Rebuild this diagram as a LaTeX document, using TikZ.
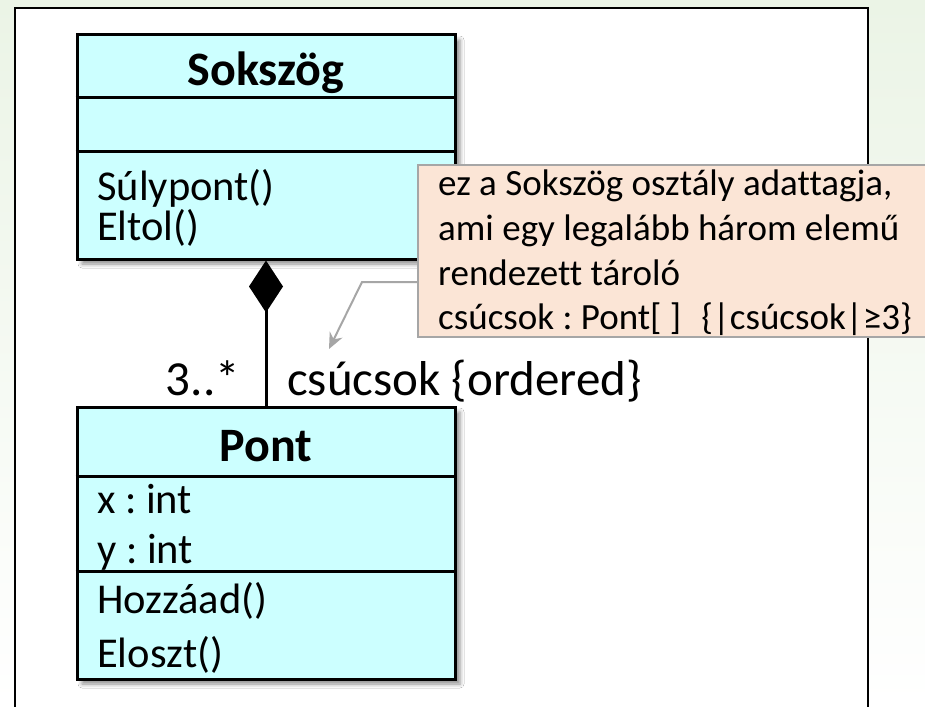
\documentclass[tikz,border=0pt]{standalone}
\usepackage{fontspec}
\setmainfont{Carlito}[Ligatures=NoCommon]
\usetikzlibrary{arrows.meta,shadows.blur}
\definecolor{clsfill}{RGB}{204,255,255}
\definecolor{notefill}{RGB}{251,229,214}
\definecolor{notedraw}{RGB}{166,166,166}
\definecolor{bggreen}{RGB}{235,244,230}
\frenchspacing
\tikzset{
  classbox/.style={draw=black, line width=3pt, fill=clsfill, rectangle, inner sep=0pt,
    blur shadow={shadow xshift=5pt, shadow yshift=-5pt, shadow blur radius=4pt, shadow opacity=45}},
  sepline/.style={draw=black, line width=3pt},
  ctext/.style={anchor=base west, inner sep=0pt, font=\fontsize{42.5}{46}\selectfont},
  ctitle/.style={anchor=base, inner sep=0pt, font=\fontsize{48}{52}\selectfont\bfseries},
  notebox/.style={draw=notedraw, line width=2pt, fill=notefill, rectangle, inner sep=0pt},
  notetext/.style={anchor=base west, inner sep=0pt, font=\fontsize{37}{41}\selectfont},
  assoc/.style={draw=black, line width=3pt},
  pointer/.style={draw=notedraw, line width=2pt, -{Stealth[length=16pt,width=14pt]}},
  lbl/.style={inner sep=0pt, font=\fontsize{49}{53}\selectfont}
}
\begin{document}
\begin{tikzpicture}[x=1pt,y=-1pt]
\useasboundingbox (0,0) rectangle (925,706);
\shade[top color=bggreen, bottom color=white] (0,0) rectangle (925,706);
\draw[fill=white, line width=2.5pt] (15,8) rectangle (868,720);
% Sokszog class
\node[classbox, minimum width=378pt, minimum height=224pt] (sok) at (266,147) {};
\draw[sepline] (sok.west |- 0,98) -- (sok.east |- 0,98);
\draw[sepline] (sok.west |- 0,151) -- (sok.east |- 0,151);
\node[ctitle] (sokname) at (266,86) {Sokszög};
\node[ctext] (m1) at (97,200) {Súlypont()};
\node[ctext] (m2) at (97,240) {Eltol()};
% Pont class
\node[classbox, minimum width=378pt, minimum height=272pt] (pont) at (266,543) {};
\draw[sepline] (pont.west |- 0,476) -- (pont.east |- 0,476);
\draw[sepline] (pont.west |- 0,571) -- (pont.east |- 0,571);
\node[ctitle] (pontname) at (266,461) {Pont};
\node[ctext] (a1) at (97,513) {x : int};
\node[ctext] (a2) at (97,563) {y : int};
\node[ctext] (p1) at (97,613) {Hozzáad()};
\node[ctext] (p2) at (97,667) {Eloszt()};
% association
\draw[assoc, {Diamond[length=52pt,width=34pt,fill=black]}-] (sok.south) -- (pont.north);
\node[lbl, anchor=base east] (mult) at (240,395) {3..*};
\node[lbl, anchor=base west] (role) at (287,395) {csúcsok \{ordered\}};
% note
\node[notebox, minimum width=513pt, minimum height=172pt, anchor=north west] (note) at (417,164) {};
\node[notetext] (n1) at (438,195) {ez a Sokszög osztály adattagja,};
\node[notetext] (n2) at (438,240) {ami egy legalább három elemű};
\node[notetext] (n3) at (438,285) {rendezett tároló};
\node[notetext] (n4) at (438,329) {csúcsok : Pont[ ]\hspace{20pt}\{|csúcsok|≥3\}};
\coordinate (pstart) at (417,282);
\coordinate (pbend) at (362,282);
\coordinate (pend) at (329,349);
\draw[pointer] (pstart) -- (pbend) -- (pend);
\end{tikzpicture}
\end{document}
